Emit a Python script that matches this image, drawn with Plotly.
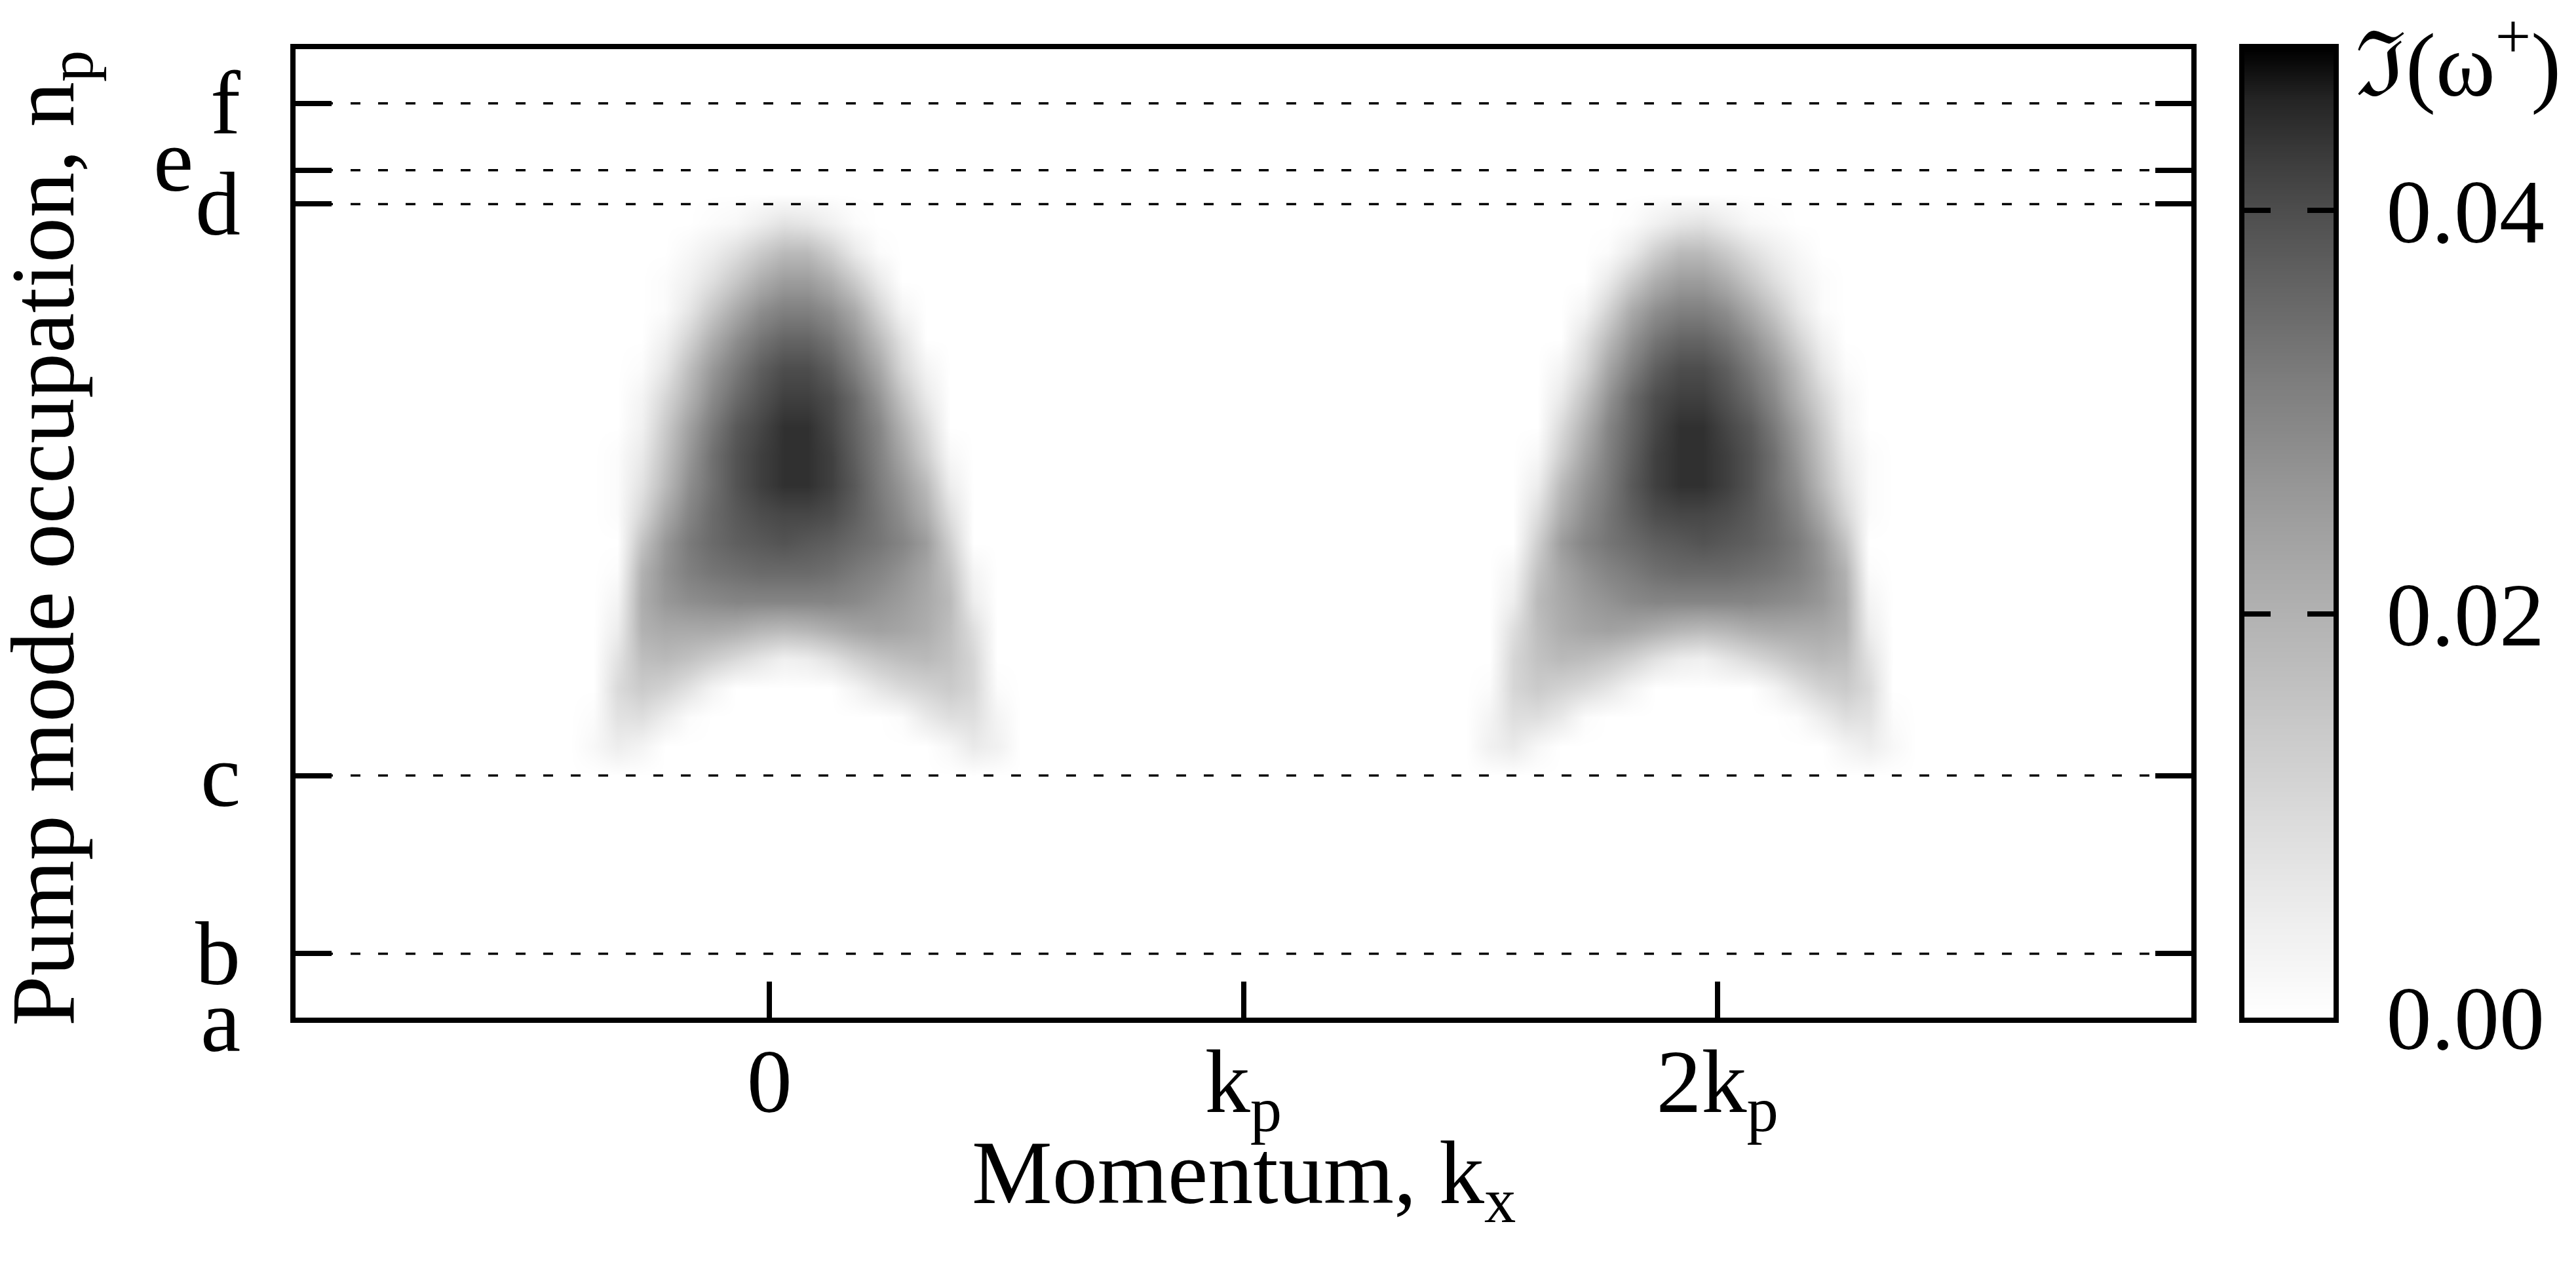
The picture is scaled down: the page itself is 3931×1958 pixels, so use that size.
import numpy as np
import plotly.graph_objects as go

# ---------------- data ----------------
k_ticks = [0, 1, 2]
k_labels = ["0", "k<sub>p</sub>", "2k<sub>p</sub>"]

np_levels = [0.0, 0.066, 0.250, 0.840, 0.875, 0.944]   # a..f (normalised n_p axis)
np_labels = ["a", "b", "c", "d", "e", "f"]
dashed_levels = [0.066, 0.250, 0.840, 0.875, 0.944]    # b..f

cb_ticks = [0.0, 0.02, 0.04]
cb_labels = ["0.00", "0.02", "0.04"]
z_max = 0.048

# first lobe (around k = 0): momentum columns (units of k_p) and n_p rows
kx_lobe = [-0.42, -0.37, -0.32, -0.27, -0.22, -0.17, -0.12, -0.07, -0.02, 0.03,
           0.08, 0.13, 0.18, 0.23, 0.28, 0.33, 0.38, 0.43, 0.48, 0.53]
np_rows = [0.25, 0.28, 0.31, 0.34, 0.37, 0.40, 0.43, 0.46, 0.49, 0.52, 0.55,
           0.58, 0.61, 0.64, 0.67, 0.70, 0.73, 0.76, 0.79, 0.82, 0.85]
# Im(omega+) estimated from the grey levels, one row per n_p value
im_lobe = [
    [0, 0, 0, 0, 0, 0, 0, 0, 0, 0, 0, 0, 0, 0, 0, 0, 0, 0, 0, 0],
    [0, .002, .005, .003, 0, 0, 0, 0, 0, 0, 0, 0, 0, 0, 0, 0, .002, .006, .004, 0],
    [0, .001, .008, .009, .005, .001, 0, 0, 0, 0, 0, 0, 0, 0, .001, .006, .009, .009, .003, 0],
    [0, 0, .010, .014, .012, .008, .003, 0, 0, 0, 0, 0, .003, .007, .010, .012, .014, .011, .001, 0],
    [0, 0, .008, .017, .018, .016, .013, .010, .007, .004, .005, .008, .012, .015, .017, .018, .016, .011, 0, 0],
    [0, 0, .005, .020, .022, .022, .022, .021, .019, .018, .019, .021, .023, .024, .023, .021, .017, .009, 0, 0],
    [0, 0, .003, .021, .026, .028, .029, .030, .030, .030, .030, .030, .029, .027, .025, .022, .018, .005, 0, 0],
    [0, 0, .001, .020, .027, .031, .033, .034, .035, .035, .035, .034, .032, .030, .027, .023, .016, .003, 0, 0],
    [0, 0, 0, .016, .026, .032, .035, .037, .038, .039, .038, .037, .035, .033, .030, .025, .013, 0, 0, 0],
    [0, 0, .001, .011, .022, .030, .035, .038, .040, .041, .041, .040, .037, .033, .028, .021, .009, 0, 0, 0],
    [0, 0, .001, .008, .018, .028, .034, .039, .042, .044, .044, .042, .038, .032, .026, .018, .005, 0, 0, 0],
    [0, 0, .001, .006, .016, .026, .034, .039, .042, .044, .044, .042, .037, .031, .023, .013, .002, 0, 0, 0],
    [0, 0, 0, .004, .014, .024, .032, .038, .041, .044, .044, .041, .036, .030, .020, .010, 0, 0, 0, 0],
    [0, 0, 0, .003, .011, .020, .029, .035, .039, .042, .042, .040, .035, .027, .016, .006, 0, 0, 0, 0],
    [0, 0, 0, .001, .007, .017, .026, .032, .037, .040, .040, .037, .031, .023, .011, .003, 0, 0, 0, 0],
    [0, 0, 0, 0, .004, .012, .021, .028, .033, .036, .036, .033, .027, .018, .008, 0, 0, 0, 0, 0],
    [0, 0, 0, 0, .001, .007, .015, .022, .028, .031, .031, .028, .022, .012, .003, 0, 0, 0, 0, 0],
    [0, 0, 0, 0, .001, .004, .009, .015, .021, .025, .025, .021, .014, .006, 0, 0, 0, 0, 0, 0],
    [0, 0, 0, 0, 0, .002, .005, .009, .014, .018, .018, .013, .006, .001, 0, 0, 0, 0, 0, 0],
    [0, 0, 0, 0, 0, 0, .001, .002, .005, .008, .007, .004, .001, 0, 0, 0, 0, 0, 0, 0],
    [0, 0, 0, 0, 0, 0, 0, 0, 0, 0, 0, 0, 0, 0, 0, 0, 0, 0, 0, 0],
]
# second lobe (around 2k_p) is the mirror image of the first about k_p, as in the figure
kx_lobe2 = [round(2 - v, 2) for v in reversed(kx_lobe)]
im_lobe2 = [list(reversed(row)) for row in im_lobe]

# ---------------- styling ----------------
FONT = "Liberation Serif"
FS = 138
LW = 8

# gnuplot-like grey palette (white -> black with gamma 1.5)
gray_scale = []
for i in range(21):
    t = i / 20
    g = int(round(255 * (1 - t) ** (2 / 3)))
    gray_scale.append([t, f"rgb({g},{g},{g})"])

W, H = 3931, 1958
ml, mt, mb = 443, 67, 413
paper_right = 3553
mr = W - paper_right
pw = paper_right - ml
x_main_end = (3336 - ml) / pw
x_cb_start = (3417 - ml) / pw

fig = go.Figure()
for xs, zs in ((kx_lobe, im_lobe), (kx_lobe2, im_lobe2)):
    fig.add_trace(go.Heatmap(
        x=xs, y=np_rows, z=zs, zmin=0, zmax=z_max, colorscale=gray_scale,
        zsmooth="best", showscale=False, hoverinfo="skip"))

# colour bar drawn as its own small axis so ticks appear on both sides
cb_vals = np.linspace(0, z_max, 500)
fig.add_trace(go.Heatmap(
    x=[0, 1], y=cb_vals, z=[[v, v] for v in cb_vals], zmin=0, zmax=z_max,
    colorscale=gray_scale, showscale=False, hoverinfo="skip",
    xaxis="x2", yaxis="y2"))

shapes = [dict(type="line", xref="x domain", x0=0, x1=1, yref="y", y0=lv, y1=lv,
               line=dict(color="black", width=3.5, dash="15px,27px"), layer="above")
          for lv in dashed_levels]

label_shift = {"e": (-72, 15), "a": (0, -4)}
annotations = []
for lv, lab in zip(np_levels, np_labels):
    dx, dy = label_shift.get(lab, (0, 0))
    annotations.append(dict(text=lab, xref="paper", yref="y", x=0, y=lv,
                            xanchor="right", yanchor="middle", showarrow=False,
                            xshift=-82 + dx, yshift=dy,
                            font=dict(family=FONT, size=FS, color="black")))
# colour-bar title
annotations.append(dict(text="\u2111(\u03c9<sup>+</sup>)", xref="paper", yref="paper",
                        x=(3584 - ml) / pw, y=1, xanchor="left", yanchor="middle",
                        yshift=-14, showarrow=False,
                        font=dict(family=FONT, size=FS, color="black")))
# axis titles
annotations.append(dict(text="Momentum, k<sub>x</sub>", xref="paper", yref="paper",
                        x=x_main_end / 2, y=0, xanchor="center", yanchor="top",
                        yshift=-158, showarrow=False,
                        font=dict(family=FONT, size=FS, color="black")))
annotations.append(dict(text="Pump mode occupation, n<sub>p</sub>", xref="paper",
                        yref="paper", x=0, y=0.5, xanchor="center", yanchor="middle",
                        xshift=-376, yshift=-8, textangle=-90, showarrow=False,
                        font=dict(family=FONT, size=FS, color="black")))

fig.update_layout(
    width=W, height=H, autosize=False,
    margin=dict(l=ml, r=mr, t=mt, b=mb, pad=0),
    paper_bgcolor="white", plot_bgcolor="white",
    font=dict(family=FONT, size=FS, color="black"),
    showlegend=False,
    shapes=shapes, annotations=annotations,
    xaxis=dict(domain=[0, x_main_end], range=[-1, 3], tickvals=k_ticks, ticktext=k_labels,
               ticks="inside", ticklen=55, tickwidth=LW, tickcolor="black",
               showline=True, linewidth=LW, linecolor="black", mirror=True,
               showgrid=False, zeroline=False, ticklabelstandoff=-30),
    yaxis=dict(domain=[0, 1], range=[0, 1], tickvals=np_levels, showticklabels=False,
               ticks="inside", ticklen=55, tickwidth=LW, tickcolor="black",
               showline=True, linewidth=LW, linecolor="black", mirror="ticks",
               showgrid=False, zeroline=False),
    xaxis2=dict(domain=[x_cb_start, 1], anchor="y2", range=[0, 1],
                showticklabels=False, ticks="", showline=True, linewidth=LW,
                linecolor="black", mirror=True, showgrid=False, zeroline=False),
    yaxis2=dict(domain=[0, 1], anchor="x2", side="right", range=[0, z_max],
                tickvals=cb_ticks, ticktext=cb_labels, ticks="inside", ticklen=40,
                tickwidth=LW, tickcolor="black", showline=True, linewidth=LW,
                linecolor="black", mirror="ticks", showgrid=False, zeroline=False,
                ticklabelstandoff=45),
)

fig.write_html("out.html")
